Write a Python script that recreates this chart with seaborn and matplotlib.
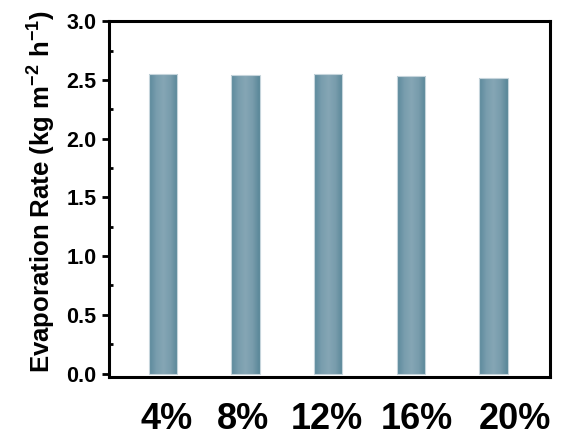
import numpy as np
import pandas as pd
import matplotlib
matplotlib.use("Agg")
import matplotlib.pyplot as plt
from matplotlib.colors import LinearSegmentedColormap
from matplotlib.transforms import ScaledTranslation
from matplotlib.ticker import MultipleLocator, FormatStrFormatter
import seaborn as sns

# Evaporation rate for each concentration
concentrations = ["4%", "8%", "12%", "16%", "20%"]
evaporation_rate = [2.55, 2.54, 2.55, 2.53, 2.52]

sns.set_style("ticks")
plt.rcParams["font.family"] = ["Liberation Sans", "DejaVu Sans"]
plt.rcParams["font.weight"] = "bold"
plt.rcParams["text.color"] = "black"
plt.rcParams["axes.labelcolor"] = "black"
plt.rcParams["xtick.color"] = "black"
plt.rcParams["ytick.color"] = "black"
plt.rcParams["mathtext.fontset"] = "custom"
plt.rcParams["mathtext.rm"] = "Liberation Sans:bold"
plt.rcParams["mathtext.it"] = "Liberation Sans:bold"
plt.rcParams["mathtext.bf"] = "Liberation Sans:bold"
plt.rcParams["mathtext.default"] = "rm"

df = pd.DataFrame({"conc": concentrations, "rate": evaporation_rate})

fig = plt.figure(figsize=(5.61, 4.41), dpi=100)
ax = fig.add_axes([0.1943, 0.145, 0.7857, 0.807])

sns.barplot(data=df, x="conc", y="rate", color="#6a93a5", width=0.34,
            saturation=1, ax=ax)

# Horizontal shading across each bar: darker edges, lighter centre
shade = LinearSegmentedColormap.from_list(
    "bar_shade", ["#5a889b", "#789dad", "#85a6b5", "#789cac", "#588697"])
grad = np.linspace(0, 1, 256).reshape(1, -1)
for patch in ax.patches:
    x0, y0 = patch.get_x(), patch.get_y()
    w, h = patch.get_width(), patch.get_height()
    ax.imshow(grad, cmap=shade, aspect="auto", interpolation="bilinear",
              extent=(x0, x0 + w, y0, y0 + h), zorder=2)
    patch.set_facecolor("none")
    patch.set_edgecolor("#c6d5dc")
    patch.set_linewidth(0.8)
    patch.set_zorder(3)

ax.set_xlim(-0.65, 4.68)
ax.set_ylim(-0.03, 3.0)
ax.yaxis.set_major_locator(MultipleLocator(0.5))
ax.yaxis.set_minor_locator(MultipleLocator(0.25))
ax.yaxis.set_major_formatter(FormatStrFormatter("%.1f"))

for side in ["left", "right", "top", "bottom"]:
    ax.spines[side].set_linewidth(2.2)
    ax.spines[side].set_color("black")

ax.tick_params(axis="y", which="major", direction="out", length=5, width=2,
               labelsize=15.5, pad=4, colors="black")
ax.tick_params(axis="y", which="minor", direction="in", length=3, width=2,
               colors="black")
ax.tick_params(axis="x", length=0, labelsize=26, pad=18, colors="black")

ax.set_xlabel("")
ax.set_ylabel(r"Evaporation Rate (kg m$^{-2}$ h$^{-1}$)", fontsize=18.5,
              fontweight="bold", color="black")
ax.yaxis.set_label_coords(-0.115, 0.522)

# Nudge the category labels sideways
offsets_px = [4, -2, -1, 6, 21]
for lbl, dx in zip(ax.get_xticklabels(), offsets_px):
    lbl.set_fontweight("bold")
    lbl.set_transform(lbl.get_transform() +
                      ScaledTranslation(dx / 100, 0, fig.dpi_scale_trans))
for lbl in ax.get_yticklabels():
    lbl.set_fontweight("bold")

fig.savefig("out.png", dpi=100)
